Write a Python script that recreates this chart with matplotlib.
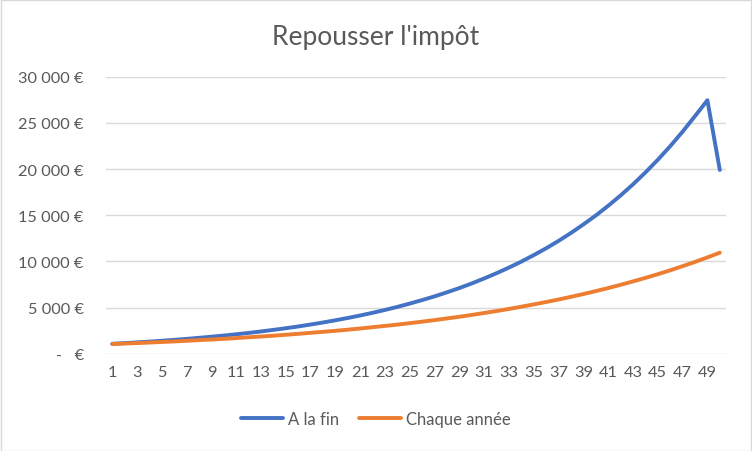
import matplotlib
matplotlib.use("Agg")
import matplotlib.pyplot as plt
from matplotlib.patches import Rectangle

years = list(range(1, 51))
a_la_fin = [1070, 1145, 1225, 1310, 1400, 1500, 1605, 1720, 1840, 1965,
            2105, 2250, 2410, 2580, 2760, 2950, 3160, 3380, 3620, 3870,
            4140, 4430, 4740, 5070, 5430, 5810, 6210, 6650, 7110, 7610,
            8150, 8720, 9330, 9980, 10680, 11420, 12220, 13080, 14000, 14970,
            16020, 17140, 18340, 19630, 21000, 22470, 24050, 25730, 27450, 19900]
chaque_annee = [1050, 1100, 1150, 1210, 1270, 1330, 1400, 1470, 1540, 1610,
                1690, 1780, 1860, 1950, 2050, 2150, 2260, 2370, 2480, 2600,
                2730, 2870, 3010, 3150, 3310, 3470, 3640, 3820, 4000, 4200,
                4410, 4620, 4850, 5090, 5340, 5600, 5870, 6160, 6460, 6780,
                7110, 7460, 7830, 8210, 8610, 9030, 9480, 9940, 10430, 10940]
series_names = ["A la fin", "Chaque année"]
title = "Repousser l'impôt"
yticks = [0, 5000, 10000, 15000, 20000, 25000, 30000]

text_color = "#595959"
plt.rcParams['font.family'] = ['Lato', 'DejaVu Sans']

fig = plt.figure(figsize=(7.52, 4.52), dpi=100)
ax = fig.add_axes([106/752, 1-354.7/452, 620/752, (354.7-77.7)/452])

ax.plot(years, a_la_fin, color="#4472C4", lw=2.8, solid_capstyle="round",
        solid_joinstyle="round", label=series_names[0], zorder=3)
ax.plot(years, chaque_annee, color="#ED7D31", lw=2.8, solid_capstyle="round",
        solid_joinstyle="round", label=series_names[1], zorder=3)

ax.set_xlim(0.5, 50.5)
ax.set_ylim(0, 30000)
ax.set_yticks(yticks)

def fmt(v):
    if v == 0:
        return "-   €"
    return f"{v:,}".replace(",", " ") + " €"

ax.set_yticklabels([fmt(v) for v in yticks])
ax.set_xticks(years[::2])
ax.set_xticklabels([str(y) for y in years[::2]])

ax.grid(axis='y', color="#D9D9D9", lw=1)
ax.set_axisbelow(True)
for s in ax.spines.values():
    s.set_visible(False)
ax.tick_params(axis='both', length=0, colors=text_color, labelsize=11.8)
ax.tick_params(axis='y', pad=16)
ax.tick_params(axis='x', pad=8)

fig.text(0.5, 1-38/452, title, ha='center', va='center', fontsize=19, color=text_color)

leg = fig.legend(loc='center', bbox_to_anchor=(0.5, 1-420/452), ncol=2, frameon=False,
                 fontsize=12, handlelength=2.5, columnspacing=1.2, handletextpad=0.3)
for t in leg.get_texts():
    t.set_color(text_color)

fig.patches.append(Rectangle((0.5/752, 0.5/452), 1-1.5/752, 1-1.5/452, transform=fig.transFigure,
                             fill=False, edgecolor="#D9D9D9", lw=1))

fig.savefig("out.png", dpi=100)
